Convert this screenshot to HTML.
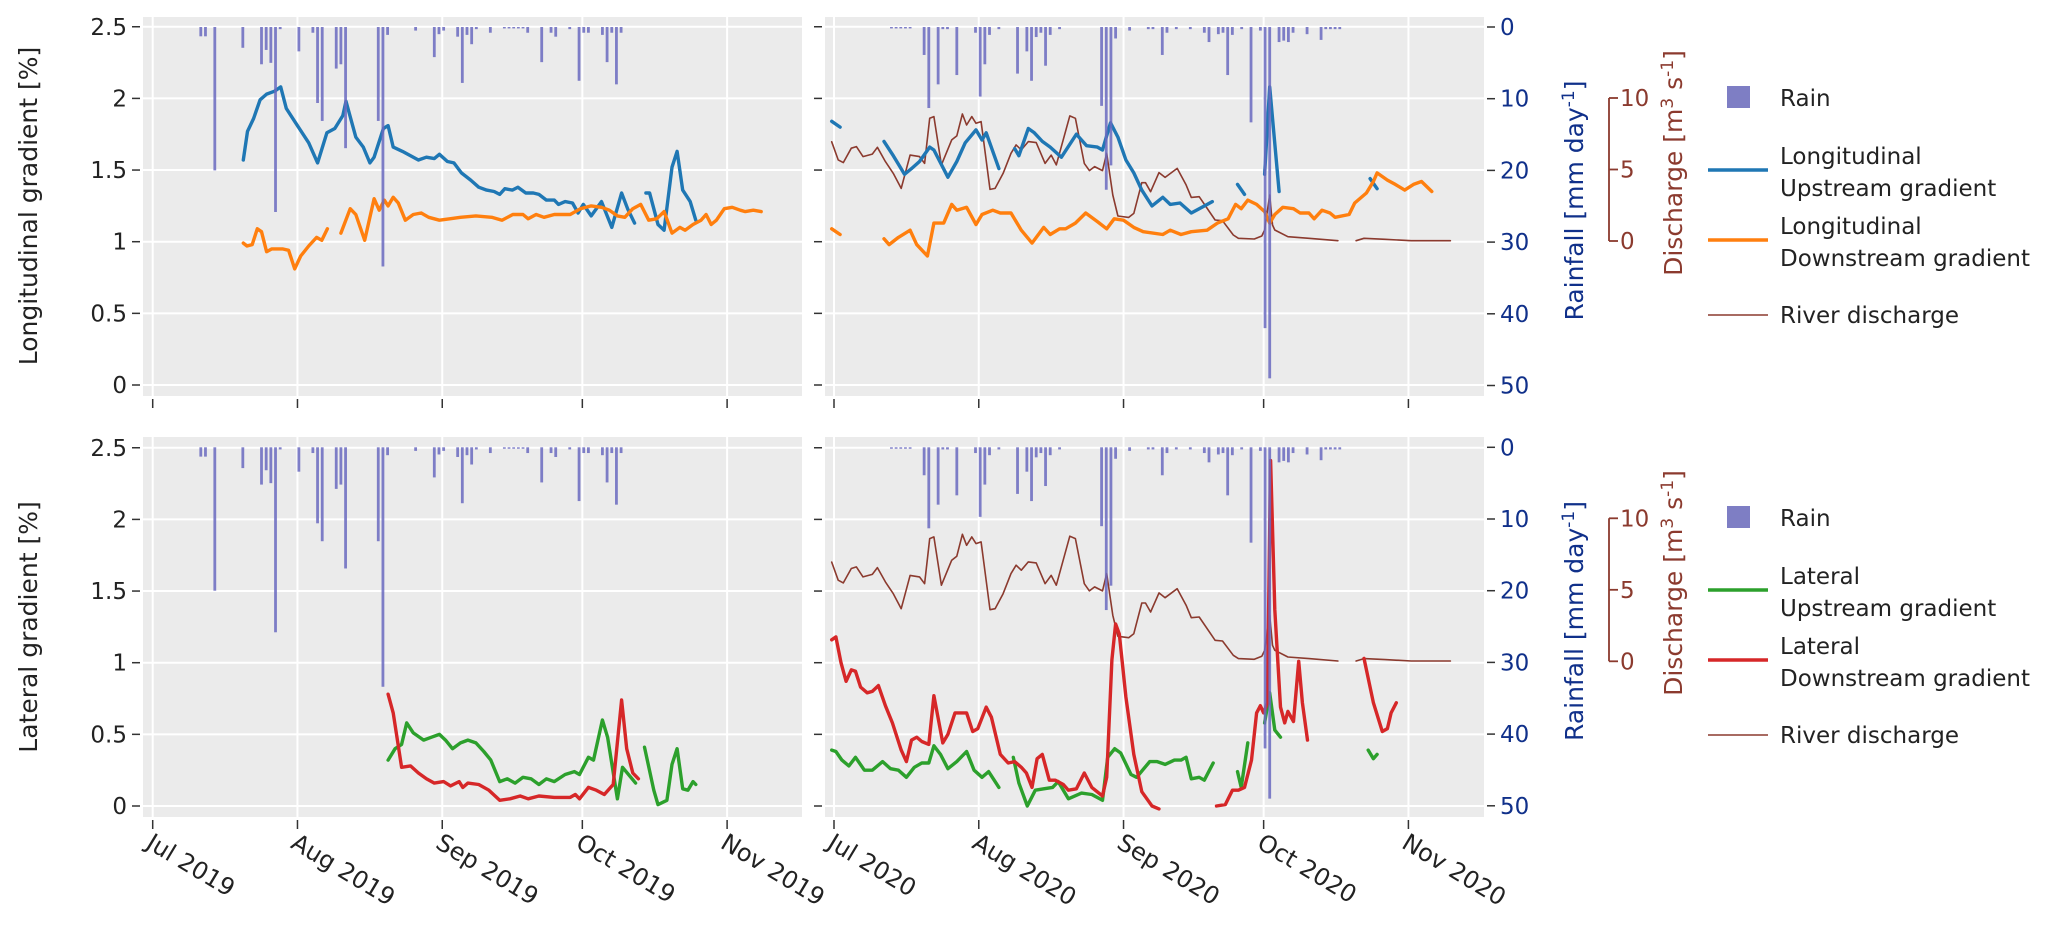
<!DOCTYPE html>
<html><head><meta charset="utf-8">
<style>
html,body{margin:0;padding:0;background:#fff;}
svg{display:block;}
text{font-family:"DejaVu Sans","Liberation Sans",sans-serif;}
</style></head>
<body>
<svg id="chart" width="2067" height="931" viewBox="0 0 2067 931" xmlns="http://www.w3.org/2000/svg"></svg>
<script>
// ---- data (days since 1 July of each year) ----
const monthLabels2019 = ["Jul 2019","Aug 2019","Sep 2019","Oct 2019","Nov 2019"];
const monthLabels2020 = ["Jul 2020","Aug 2020","Sep 2020","Oct 2020","Nov 2020"];
const monthDays = [0,31,62,92,123];
const gradTicks = [0,0.5,1,1.5,2,2.5];
const gradTickLabels = ["0","0.5","1","1.5","2","2.5"];
const rainTicks = [0,10,20,30,40,50];
const dischTicks = [0,5,10];

const rainDays2019 = [10,11,13,19,23,24,25,26,27,31,34,35,36,39,40,41,48,49,50,56,60,61,62,65,66,67,68,69,72,75,76,77,78,79,80,83,85,86,89,91,92,93,96,97,98,99,100];
const rainMm2019 = [1.3,1.3,20,2.9,5.2,3.2,5,25.8,0.3,3.4,0.8,10.6,13.1,5.8,5.2,16.9,13.1,33.4,1.1,0.5,4.2,1,0.5,1.35,7.8,1.1,2.4,0.3,0.8,0.2,0.2,0.2,0.2,0.2,0.8,4.9,0.8,1.35,0.3,7.5,0.8,0.8,1.1,4.9,0.8,8,0.8];
const rainDays2020 = [12,13,14,15,16,19,20,22,23,24,26,30,31,32,33,35,39,41,42,43,44,45,46,48,57,58,59,60,63,67,68,70,71,73,76,79,80,82,83,84,85,87,89,91,92,93,95,96,97,98,101,104,105,106,107,108];
const rainMm2020 = [0.2,0.2,0.2,0.2,0.2,3.9,11.3,8,0.3,0.3,6.7,0.8,9.7,5.2,1.1,0.3,6.5,3.4,7.5,1.4,0.8,5.4,1.1,0.3,11,22.7,19.3,1.6,0.5,0.3,0.3,3.9,0.8,0.3,0.3,0.8,2.1,1,0.8,6.7,1.1,0.3,13.3,0.5,42,49,2.1,1.9,2.1,0.8,1,1.8,0.3,0.3,0.3,0.3];

const lonUpDays2019 = [19.4,20.3,21.6,23,24.4,26.1,27.4,28.6,30.6,33.4,35.3,37.3,39,40.7,41.4,43.5,45.1,46.5,47.4,49.4,50.4,51.5,53.5,56.9,58.6,60.3,61.4,63.1,64.5,66.1,68.1,69.8,71.5,73.1,74.3,75.4,77,78.2,79.9,81.5,82.7,84.3,86,86.9,88.3,89.9,91.1,92.2,93.9,96.1,98.3,100.4,101.7,103.2,104.4,105.6,106.4,108.2,109.5,111.2,112.3,113.5,115.1,116.3];
const lonUpVals2019 = [1.57,1.77,1.86,1.99,2.03,2.05,2.08,1.93,1.83,1.69,1.55,1.76,1.79,1.88,1.98,1.73,1.66,1.55,1.59,1.79,1.81,1.66,1.63,1.57,1.59,1.58,1.61,1.56,1.55,1.48,1.43,1.38,1.36,1.35,1.33,1.37,1.36,1.38,1.34,1.34,1.33,1.29,1.29,1.26,1.28,1.27,1.20,1.26,1.18,1.28,1.10,1.34,1.23,1.13,null,1.34,1.34,1.12,1.08,1.52,1.63,1.36,1.28,1.15];
const lonDnDays2019 = [19.4,20.2,21.3,22.4,23.3,24.4,25.5,26.7,27.8,29.1,30.4,31.7,33.4,35.1,36.2,37.4,38.8,40.3,42.3,43.5,45.4,47.4,48.5,49.6,50.4,51.5,52.6,54.1,55.8,57.5,59.1,61.4,63.6,65.9,69.2,72.6,74.8,77.1,79.3,80.4,82.1,83.8,86,89.4,91.6,93.9,96.1,97.8,99.5,101.1,102.8,104.5,106.2,107.9,109.5,111.2,112.9,114,115.7,117.4,118.5,119.6,120.7,122.4,124.1,125.8,126.9,128.6,130.3];
const lonDnVals2019 = [0.99,0.97,0.98,1.09,1.07,0.93,0.95,0.95,0.95,0.94,0.81,0.90,0.97,1.03,1.01,1.09,null,1.06,1.23,1.19,1.01,1.30,1.22,1.29,1.25,1.31,1.27,1.15,1.19,1.20,1.17,1.15,1.16,1.17,1.18,1.17,1.15,1.19,1.19,1.16,1.19,1.17,1.19,1.19,1.23,1.25,1.24,1.22,1.18,1.17,1.23,1.26,1.15,1.16,1.21,1.06,1.10,1.08,1.12,1.15,1.19,1.12,1.15,1.23,1.24,1.22,1.21,1.22,1.21];

const lonUpDays2020 = [-0.5,1.3,6,10.7,12.7,15.1,16.6,18.3,20.5,21.4,24.4,26.3,28.1,30.4,31.7,32.6,35.3,37,38.7,39.6,41.6,42.9,44.6,46.3,48.7,51.9,54.1,56.4,57.5,59.2,60.8,62.5,64.2,65.9,68.1,70.4,72,74.1,76.5,78.8,81,84,86.4,87.9,90,92.2,93.3,95.3,105,114.8,116.3];
const lonUpVals2020 = [1.84,1.80,null,1.70,1.60,1.47,1.51,1.56,1.66,1.64,1.45,1.56,1.69,1.78,1.71,1.76,1.51,null,1.65,1.60,1.79,1.76,1.70,1.66,1.59,1.75,1.67,1.66,1.64,1.83,1.73,1.57,1.48,1.36,1.25,1.31,1.26,1.27,1.20,1.24,1.28,null,1.40,1.33,null,1.47,2.08,1.35,null,1.44,1.37];
const lonDnDays2020 = [-0.5,1.3,6,10.7,11.8,13.8,16.3,17.7,20,21.4,23.5,25.2,26.3,28.4,30.4,31.7,34,35.6,37.9,40.1,42.4,44.9,46.3,48.3,49.6,51.7,53.9,56.4,58.4,60,62,64.2,66.2,70.4,72,74.3,76.5,79.9,82.1,84.4,86,87.2,88.6,90.5,92.2,93.3,94.4,96.1,98.4,99.8,101.7,102.8,104.5,106.2,107.3,110.3,111.5,114,115.5,116.3,118.5,120.2,122.2,124.1,125.8,128];
const lonDnVals2020 = [1.09,1.05,null,1.02,0.98,1.03,1.08,0.98,0.90,1.13,1.13,1.26,1.22,1.24,1.12,1.19,1.22,1.20,1.20,1.08,0.99,1.10,1.05,1.09,1.09,1.13,1.20,1.14,1.09,1.16,1.15,1.10,1.07,1.05,1.08,1.05,1.07,1.08,1.13,1.16,1.26,1.23,1.29,1.26,1.21,1.13,1.19,1.24,1.23,1.20,1.20,1.16,1.22,1.20,1.17,1.19,1.27,1.34,1.42,1.48,1.43,1.40,1.36,1.40,1.42,1.35];

const latUpDays2019 = [50.4,51.9,53.3,54.4,55.8,58,59.7,61.4,62.7,64.2,65.9,67.5,69.2,70.9,72.4,74.3,75.9,77.6,79.3,81,82.7,84.3,86,88.3,90.3,91.4,93.3,94.4,96.3,97.4,99.5,100.6,103.4,104.3,105.3,107.3,108.2,110.1,111.2,112.3,113.5,114.6,115.7,116.3];
const latUpVals2019 = [0.32,0.40,0.43,0.58,0.51,0.46,0.48,0.50,0.46,0.40,0.44,0.46,0.44,0.38,0.32,0.17,0.19,0.16,0.20,0.19,0.15,0.19,0.17,0.22,0.24,0.22,0.34,0.32,0.60,0.48,0.05,0.27,0.16,null,0.41,0.11,0.01,0.04,0.29,0.40,0.12,0.11,0.17,0.15];
const latDnDays2019 = [50.4,51.5,53.3,55.2,56.9,58.6,60.3,62.3,63.8,65.6,66.4,67.5,69.8,72,74.3,76.5,78.7,80.4,82.7,86,89.4,90.5,91.4,93.3,95,96.7,98.6,100.4,101.5,102.8,104];
const latDnVals2019 = [0.78,0.65,0.27,0.28,0.23,0.19,0.16,0.17,0.14,0.17,0.13,0.16,0.15,0.11,0.04,0.05,0.07,0.05,0.07,0.06,0.06,0.08,0.05,0.13,0.11,0.08,0.15,0.74,0.40,0.23,0.19];

const latUpDays2020 = [-0.5,0.4,1.7,3.2,4.6,6.5,8.2,10.4,12.1,13.8,15.5,17.2,18.8,20.3,21.4,22.8,24.4,26.3,28.4,30,31.7,33.1,35.3,37,38.4,39.6,41.4,43.1,44.9,46.8,48,50.2,53,55.2,57.5,58.6,60.1,61.4,63.6,64.8,67.6,69.2,70.9,72.9,74.3,75.4,76.5,78.2,79.3,81.2,84,86.4,87.2,88.6,90,92.2,93.3,94.4,95.6,105,114.4,115.5,116.3];
const latUpVals2020 = [0.39,0.38,0.32,0.28,0.34,0.25,0.25,0.31,0.26,0.25,0.20,0.27,0.30,0.30,0.42,0.36,0.26,0.31,0.38,0.25,0.20,0.24,0.13,null,0.34,0.16,0.0,0.11,0.12,0.13,0.17,0.05,0.09,0.08,0.04,0.34,0.40,0.37,0.22,0.20,0.31,0.31,0.29,0.32,0.32,0.34,0.19,0.20,0.18,0.30,null,0.24,0.13,0.44,null,0.58,0.79,0.53,0.48,null,0.39,0.33,0.36];
const latDnDays2020 = [-0.5,0.4,1.5,2.6,3.7,4.6,5.7,7.1,8.2,9.5,11,12.5,14.4,15.5,16.6,17.7,18.8,20.3,21.4,23.3,24.4,25.9,28.4,29.7,30.8,32.6,33.7,35.6,37.3,38.7,40.1,41.2,42.4,43.5,44.6,46.1,47.4,49.1,50.2,51.9,53.6,55.2,57.5,58.4,59.5,60.3,61.1,62.5,64.2,65.9,68.1,69.6,75,81.9,83.8,85.3,86.6,87.9,89.4,90.5,91.3,92,92.8,93.5,94.4,95.6,96.5,97.2,98.4,99.5,100.3,101.4,107,113.5,115.5,117.4,118.5,119.3,120.4];
const latDnVals2020 = [1.16,1.18,1.00,0.87,0.95,0.94,0.83,0.79,0.80,0.84,0.70,0.58,0.39,0.31,0.46,0.48,0.45,0.43,0.77,0.44,0.50,0.65,0.65,0.52,0.54,0.69,0.62,0.36,0.30,0.31,0.27,0.23,0.13,0.33,0.36,0.18,0.18,0.15,0.11,0.12,0.23,0.13,0.07,0.20,1.02,1.27,1.20,0.76,0.36,0.10,0.0,-0.02,null,0.0,0.01,0.11,0.11,0.13,0.32,0.65,0.70,0.65,0.72,2.41,1.37,0.69,0.58,0.66,0.59,1.01,0.72,0.46,null,1.03,0.72,0.52,0.54,0.65,0.72];

const dischDays2020 = [-0.5,0.9,2,3.7,4.8,6.2,8.2,9.3,11,12.7,14.4,16.3,18.3,19.4,20.5,21.4,23,25.2,26.3,27.5,28.4,29.5,30.4,31.5,33.4,34.5,36.2,37.9,39,40.1,41.6,43.3,45.2,46.5,47.6,50.5,51.7,53.6,54.7,55.8,57.5,58.4,59.7,60.8,63.1,64.2,65.9,66.7,67.8,69.6,70.9,73.5,75.4,76.5,78.2,81.6,83.2,85.5,86.6,90,91.6,92.2,93.3,93.9,94.4,97.2,101.7,107.9,110,111.8,113.5,118,123.6,132];
const dischVals2020 = [6.94,5.67,5.48,6.49,6.60,5.90,6.08,6.55,5.55,4.73,3.68,6.01,5.90,5.43,8.58,8.70,5.32,7.07,7.35,8.88,8.11,8.70,8.23,8.35,3.61,3.68,4.73,6.13,6.72,6.37,6.95,6.88,5.43,6.01,5.32,8.75,8.58,5.43,4.92,5.20,4.92,6.13,3.22,1.75,1.65,1.93,4.08,4.08,3.45,4.78,4.45,5.08,3.92,3.05,3.10,1.47,1.42,0.42,0.19,0.14,0.35,0.77,3.22,1.12,0.77,0.30,0.19,0.02,null,0.02,0.19,0.12,0.02,0.02];

// ---- layout ----
const NS = "http://www.w3.org/2000/svg";
const svg = document.getElementById("chart");
const C = {blue:"#1f77b4",orange:"#ff7f0e",green:"#2ca02c",red:"#d62728",disch:"#8b3a2e",rain:"#6a6abf",navy:"#10308a",bg:"#ebebeb",txt:"#222"};
function el(tag, attrs, parent){const e=document.createElementNS(NS,tag);for(const k in attrs)e.setAttribute(k,attrs[k]);(parent||svg).appendChild(e);return e;}

const panels = [
 {id:"top-2019", x0:143,x1:802,y0:17,y1:396, dayX:152.7, g0:385, r0:27, year:2019, row:0},
 {id:"top-2020", x0:825,x1:1484,y0:17,y1:396, dayX:834, g0:385, r0:27, year:2020, row:0},
 {id:"bottom-2019", x0:143,x1:802,y0:437,y1:817, dayX:152.7, g0:806, r0:447.3, year:2019, row:1},
 {id:"bottom-2020", x0:825,x1:1484,y0:437,y1:817, dayX:834, g0:806, r0:447.3, year:2020, row:1}
];
const PX_DAY = 4.67, PX_GRAD = 143.3, PX_RAIN = 7.17, PX_Q = 14.3;

function drawLine(g, p, days, vals, color, w, yfun, name){
  let d="", pen=false;
  for(let i=0;i<days.length;i++){
    const v=vals[i];
    if(v===null||v===undefined){pen=false;continue;}
    const x=p.dayX+days[i]*PX_DAY, y=yfun(v);
    d+=(pen?"L":"M")+x.toFixed(1)+" "+y.toFixed(1)+" ";
    pen=true;
  }
  const path=el("path",{d:d,fill:"none",stroke:color,"stroke-width":w,"stroke-linejoin":"round","stroke-linecap":"round"},g);
  
  
}

panels.forEach(p=>{
  const g=el("g",{});
  
  
  el("rect",{x:p.x0,y:p.y0,width:p.x1-p.x0,height:p.y1-p.y0,fill:C.bg},g);
  const cp=el("clipPath",{id:"clip-"+p.id},g);
  el("rect",{x:p.x0,y:p.y0,width:p.x1-p.x0,height:p.y1-p.y0},cp);
  const gy=v=>p.g0-v*PX_GRAD;
  gradTicks.forEach((v,i)=>{
    el("line",{x1:p.x0,x2:p.x1,y1:gy(v),y2:gy(v),stroke:"#fff","stroke-width":2},g);
    el("line",{x1:p.x0-11,x2:p.x0-3,y1:gy(v),y2:gy(v),stroke:"#333","stroke-width":1.5},g);
    if(p.year===2019){
      const t=el("text",{x:p.x0-16,y:gy(v)+8,"text-anchor":"end","font-size":23,fill:C.txt},g);
      t.textContent=gradTickLabels[i];
      
      
    }
  });
  const labels=p.year===2019?monthLabels2019:monthLabels2020;
  monthDays.forEach((d,i)=>{
    const x=p.dayX+d*PX_DAY;
    el("line",{x1:x,x2:x,y1:p.y0,y2:p.y1,stroke:"#fff","stroke-width":2},g);
    el("line",{x1:x,x2:x,y1:p.y1+3,y2:p.y1+12,stroke:"#333","stroke-width":1.5},g);
    if(p.row===1){
      const t=el("text",{x:x-8,y:p.y1+30,"font-size":24,fill:C.txt,transform:"rotate(31 "+(x-8)+" "+(p.y1+30)+")"},g);
      t.textContent=labels[i];
      
      
    }
  });
  const cg=el("g",{"clip-path":"url(#clip-"+p.id+")"},g);
  const qy=v=>p.r0+(241-27)-v*PX_Q;
  if(p.year===2019){
    if(p.row===0){
      drawLine(cg,p,lonUpDays2019,lonUpVals2019,C.blue,3.4,gy,"longitudinal-upstream-line");
      drawLine(cg,p,lonDnDays2019,lonDnVals2019,C.orange,3.4,gy,"longitudinal-downstream-line");
    } else {
      drawLine(cg,p,latUpDays2019,latUpVals2019,C.green,3.4,gy,"lateral-upstream-line");
      drawLine(cg,p,latDnDays2019,latDnVals2019,C.red,3.4,gy,"lateral-downstream-line");
    }
  } else {
    drawLine(cg,p,dischDays2020,dischVals2020,C.disch,1.6,qy,"river-discharge-line");
    if(p.row===0){
      drawLine(cg,p,lonUpDays2020,lonUpVals2020,C.blue,3.4,gy,"longitudinal-upstream-line");
      drawLine(cg,p,lonDnDays2020,lonDnVals2020,C.orange,3.4,gy,"longitudinal-downstream-line");
    } else {
      drawLine(cg,p,latUpDays2020,latUpVals2020,C.green,3.4,gy,"lateral-upstream-line");
      drawLine(cg,p,latDnDays2020,latDnVals2020,C.red,3.4,gy,"lateral-downstream-line");
    }
  }
  const rd=p.year===2019?rainDays2019:rainDays2020, rm=p.year===2019?rainMm2019:rainMm2020;
  rd.forEach((d,i)=>{
    const x=p.dayX+(d+0.3)*PX_DAY;
    const b=el("rect",{x:x-1.4,y:p.r0,width:2.8,height:Math.max(0.8,rm[i]*PX_RAIN),fill:C.rain,opacity:0.85},cg);
    
    
  });
  if(p.year===2020){
    rainTicks.forEach(r=>{
      const y=p.r0+r*PX_RAIN;
      el("line",{x1:p.x1+3,x2:p.x1+11,y1:y,y2:y,stroke:"#333","stroke-width":1.5},g);
      const t=el("text",{x:p.x1+16,y:y+8,"font-size":23,fill:C.navy},g);
      t.textContent=String(r);
      
      
    });
    const cy=(p.y0+p.y1)/2-6;
    const rl=el("text",{x:1583,y:cy,"font-size":25,fill:C.navy,"text-anchor":"middle",transform:"rotate(-90 1583 "+cy+")"},g);
    rl.innerHTML='Rainfall [mm day<tspan dy="-9" font-size="17">-1</tspan><tspan dy="9">]</tspan>';
    
    
    const qTop=qy(10), qBot=qy(0);
    el("line",{x1:1609,x2:1609,y1:qTop,y2:qBot,stroke:C.disch,"stroke-width":1.8},g);
    dischTicks.forEach(q=>{
      el("line",{x1:1609,x2:1618,y1:qy(q),y2:qy(q),stroke:C.disch,"stroke-width":1.8},g);
      const t=el("text",{x:1620,y:qy(q)+8,"font-size":23,fill:C.disch},g);
      t.textContent=String(q);
      
      
    });
    const dy=p.y0+146;
    const dl=el("text",{x:1682,y:dy,"font-size":25,fill:C.disch,"text-anchor":"middle",transform:"rotate(-90 1682 "+dy+")"},g);
    dl.innerHTML='Discharge [m<tspan dy="-9" font-size="17">3</tspan><tspan dy="9"> s</tspan><tspan dy="-9" font-size="17">-1</tspan><tspan dy="9">]</tspan>';
    
    
    const lg=el("g",{});
    
    
    const o=p.row===0?0:420;
    el("rect",{x:1727,y:86+o,width:23,height:22,fill:"#7e7ec4"},lg);
    const mk=(txt,x,y)=>{const t=el("text",{x:x,y:y,"font-size":23,fill:C.txt},lg);t.textContent=txt;return t;};
    mk("Rain",1780,106+o);
    const n1=p.row===0?"Longitudinal":"Lateral";
    const c1=p.row===0?C.blue:C.green, c2=p.row===0?C.orange:C.red;
    el("line",{x1:1708,x2:1768,y1:170+o,y2:170+o,stroke:c1,"stroke-width":3.4},lg);
    mk(n1,1780,164+o); mk("Upstream gradient",1780,196+o);
    el("line",{x1:1708,x2:1768,y1:240+o,y2:240+o,stroke:c2,"stroke-width":3.4},lg);
    mk(n1,1780,234+o); mk("Downstream gradient",1780,266+o);
    el("line",{x1:1708,x2:1768,y1:315+o,y2:315+o,stroke:C.disch,"stroke-width":1.6},lg);
    mk("River discharge",1780,323+o);
  }
});
const t1=el("text",{x:37,y:206,"font-size":25,fill:C.txt,"text-anchor":"middle",transform:"rotate(-90 37 206)"});
t1.textContent="Longitudinal gradient [%]";


const t2=el("text",{x:37,y:627,"font-size":25,fill:C.txt,"text-anchor":"middle",transform:"rotate(-90 37 627)"});
t2.textContent="Lateral gradient [%]";


</script>
</body></html>
